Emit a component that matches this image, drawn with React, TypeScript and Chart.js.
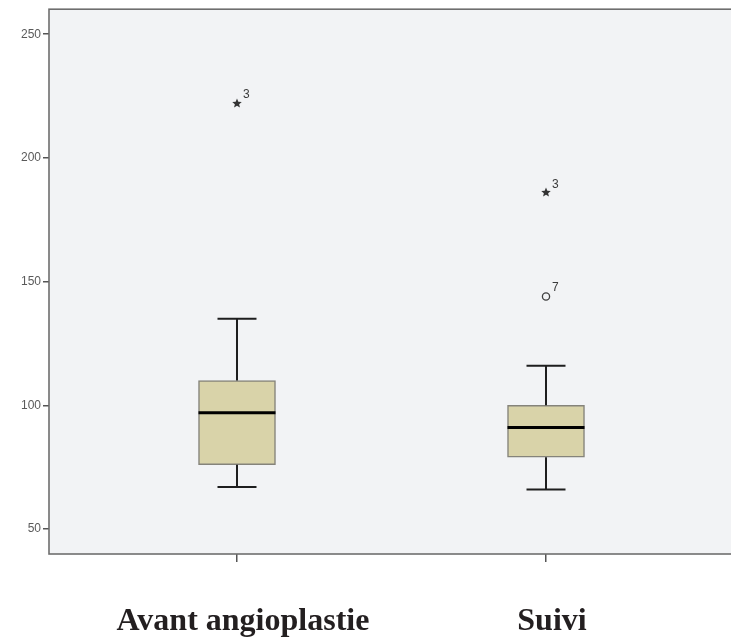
import { useEffect, useRef } from 'react';
import { Chart, registerables } from 'chart.js';

Chart.register(...registerables);

// ---- data ----
const categories = ['Avant angioplastie', 'Suivi'];
const categoryPositions = [1, 2];
const whiskerLow = [67, 66];
const quartile1 = [76, 79];
const medians = [97, 91];
const quartile3 = [110, 100];
const whiskerHigh = [135, 116];
const extremeCategory = [1, 2];
const extremeValues = [222, 186];
const extremeLabels = ['3', '3'];
const outlierCategory = [2];
const outlierValues = [144];
const outlierLabels = ['7'];
const yTicks = [50, 100, 150, 200, 250];

const PLOT_BG = '#f2f3f5';
const FRAME = '#6e6e6e';
const BOX_FILL = '#d9d3a9';
const BOX_EDGE = '#85837a';
const BOX_WIDTH = 77;
const CAP_WIDTH = 39;

function drawStar(ctx: CanvasRenderingContext2D, x: number, y: number, r: number) {
  const inner = r * 0.45;
  ctx.beginPath();
  for (let k = 0; k < 10; k++) {
    const rad = k % 2 === 0 ? r : inner;
    const a = -Math.PI / 2 + (k * Math.PI) / 5;
    const px = x + rad * Math.cos(a);
    const py = y + rad * Math.sin(a);
    if (k === 0) ctx.moveTo(px, py);
    else ctx.lineTo(px, py);
  }
  ctx.closePath();
  ctx.fill();
}

const framePlugin = {
  id: 'frame',
  beforeDraw(chart: any) {
    const { ctx, chartArea: a } = chart;
    ctx.save();
    ctx.fillStyle = PLOT_BG;
    ctx.fillRect(a.left, a.top, a.right - a.left, a.bottom - a.top);
    ctx.restore();
  },
  afterDraw(chart: any) {
    const { ctx, chartArea: a } = chart;
    ctx.save();
    ctx.strokeStyle = FRAME;
    ctx.lineWidth = 1.6;
    ctx.strokeRect(a.left, a.top, a.right - a.left, a.bottom - a.top);
    ctx.restore();
  },
};

const boxPlugin = {
  id: 'boxParts',
  afterDatasetsDraw(chart: any) {
    const { ctx } = chart;
    const xs = chart.scales.x;
    const ys = chart.scales.y;
    ctx.save();
    categoryPositions.forEach((pos, i) => {
      const x = xs.getPixelForValue(pos);
      const yHi = ys.getPixelForValue(whiskerHigh[i]);
      const yQ3 = ys.getPixelForValue(quartile3[i]);
      const yQ1 = ys.getPixelForValue(quartile1[i]);
      const yLo = ys.getPixelForValue(whiskerLow[i]);
      const yMed = ys.getPixelForValue(medians[i]);
      ctx.strokeStyle = '#1e1e1e';
      ctx.lineWidth = 2;
      ctx.beginPath();
      ctx.moveTo(x, yHi);
      ctx.lineTo(x, yQ3);
      ctx.moveTo(x, yQ1);
      ctx.lineTo(x, yLo);
      ctx.moveTo(x - CAP_WIDTH / 2, yHi);
      ctx.lineTo(x + CAP_WIDTH / 2, yHi);
      ctx.moveTo(x - CAP_WIDTH / 2, yLo);
      ctx.lineTo(x + CAP_WIDTH / 2, yLo);
      ctx.stroke();
      ctx.lineWidth = 3;
      ctx.strokeStyle = '#000000';
      ctx.beginPath();
      ctx.moveTo(x - BOX_WIDTH / 2, yMed);
      ctx.lineTo(x + BOX_WIDTH / 2, yMed);
      ctx.stroke();
    });

    // extreme values (stars) and labels
    const extMeta = chart.getDatasetMeta(1);
    ctx.fillStyle = '#333333';
    extMeta.data.forEach((el: any) => {
      drawStar(ctx, el.x, el.y, 5);
    });
    ctx.font = '12px "Liberation Sans", Arial, sans-serif';
    ctx.textAlign = 'left';
    ctx.textBaseline = 'alphabetic';
    ctx.fillStyle = '#3a3a3a';
    extMeta.data.forEach((el: any, j: number) => {
      ctx.fillText(extremeLabels[j], el.x + 6, el.y - 5);
    });
    const outMeta = chart.getDatasetMeta(2);
    outMeta.data.forEach((el: any, j: number) => {
      ctx.fillText(outlierLabels[j], el.x + 6, el.y - 5);
    });
    ctx.restore();
  },
};

export default function App() {
  const ref = useRef<HTMLCanvasElement | null>(null);

  useEffect(() => {
    document.body.style.margin = '0';
    if (!ref.current) return;
    const chart = new Chart(ref.current, {
      type: 'bar',
      data: {
        datasets: [
          {
            type: 'bar',
            data: categoryPositions.map((x, i) => ({ x, y: [quartile1[i], quartile3[i]] })) as any,
            backgroundColor: BOX_FILL,
            borderColor: BOX_EDGE,
            borderWidth: 1.5,
            borderSkipped: false,
            barThickness: BOX_WIDTH,
          } as any,
          {
            type: 'scatter',
            data: extremeCategory.map((x, i) => ({ x, y: extremeValues[i] })),
            pointRadius: 0,
            pointHoverRadius: 0,
          } as any,
          {
            type: 'scatter',
            data: outlierCategory.map((x, i) => ({ x, y: outlierValues[i] })),
            pointStyle: 'circle',
            pointRadius: 3.6,
            borderColor: '#404040',
            borderWidth: 1.3,
            backgroundColor: 'rgba(0,0,0,0)',
          } as any,
        ],
      },
      options: {
        responsive: false,
        animation: false,
        devicePixelRatio: window.devicePixelRatio || 1,
        layout: { padding: { top: 8, left: 0, right: 11, bottom: 0 } },
        plugins: {
          legend: { display: false },
          tooltip: { enabled: false },
        },
        scales: {
          x: {
            type: 'linear',
            offset: false,
            min: 0.3916,
            max: 2.6084,
            afterBuildTicks: (scale: any) => {
              scale.ticks = categoryPositions.map((v) => ({ value: v }));
            },
            afterFit: (scale: any) => {
              scale.height = 86;
            },
            ticks: {
              autoSkip: false,
              maxRotation: 0,
              padding: 41,
              labelOffset: 6,
              color: '#231f20',
              font: { family: '"Liberation Serif", "Times New Roman", serif', size: 32, weight: 'bold' },
              callback: (v: any) => categories[categoryPositions.indexOf(Number(v))] ?? '',
            },
            grid: { offset: false, drawOnChartArea: false, drawTicks: true, tickLength: 8, color: '#555555', lineWidth: 1.5 },
            border: { display: false },
          },
          y: {
            type: 'linear',
            min: 39.9,
            max: 260.1,
            afterBuildTicks: (scale: any) => {
              scale.ticks = yTicks.map((v) => ({ value: v }));
            },
            afterFit: (scale: any) => {
              scale.width = 49;
            },
            ticks: {
              padding: 2,
              color: '#5a5a5a',
              font: { family: '"Liberation Sans", Arial, sans-serif', size: 12 },
            },
            grid: { drawOnChartArea: false, drawTicks: true, tickLength: 6, color: '#555555', lineWidth: 1.5 },
            border: { display: false },
          },
        },
      },
      plugins: [framePlugin, boxPlugin],
    });
    return () => chart.destroy();
  }, []);

  return (
    <div
      style={{
        position: 'fixed',
        left: 0,
        top: 0,
        width: 731,
        height: 640,
        overflow: 'hidden',
        background: '#ffffff',
      }}
    >
      <canvas ref={ref} width={745} height={640} style={{ width: 745, height: 640, display: 'block' }} />
    </div>
  );
}
